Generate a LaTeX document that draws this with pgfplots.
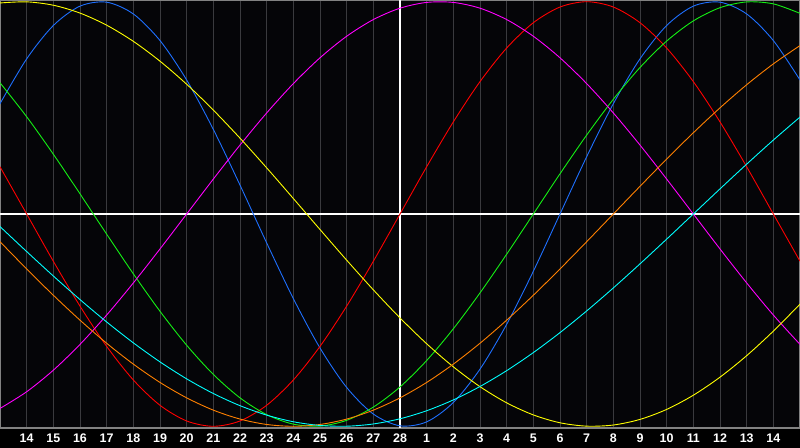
\documentclass[border=0pt]{standalone}
\usepackage{fontspec}
\setmainfont{Liberation Sans}
\usepackage{pgfplots}
\usepackage{pgfplotstable}
\pgfplotsset{compat=1.18}

\definecolor{bg}{RGB}{5,5,8}
\definecolor{gridc}{RGB}{58,58,62}
\definecolor{borderc}{RGB}{130,130,130}
\definecolor{cphys}{RGB}{30,112,255}
\definecolor{cemo}{RGB}{255,0,0}
\definecolor{cint}{RGB}{20,240,20}
\definecolor{cintu}{RGB}{255,0,255}
\definecolor{caest}{RGB}{255,255,0}
\definecolor{caware}{RGB}{255,128,0}
\definecolor{cspir}{RGB}{0,255,255}

% day offset from today, then the seven cycles (23, 28, 33, 38, 43, 48, 53 days)
\pgfplotstableread{
u    phys    emo     intel   intu    aest    aware   spir
-15  0.5196  0.2225  0.6182 -0.9158  0.9940 -0.1305 -0.0592
-14  0.7308  0.0000  0.4582 -0.8372  0.9993 -0.2588 -0.1769
-13  0.8879 -0.2225  0.2817 -0.7357  0.9834 -0.3827 -0.2920
-12  0.9791 -0.4339  0.0951 -0.6142  0.9464 -0.5000 -0.4031
-11  0.9977 -0.6235 -0.0951 -0.4759  0.8894 -0.6088 -0.5085
-10  0.9423 -0.7818 -0.2817 -0.3247  0.8133 -0.7071 -0.6068
-9   0.8170 -0.9010 -0.4582 -0.1646  0.7198 -0.7934 -0.6966
-8   0.6311 -0.9749 -0.6182  0.0000  0.6112 -0.8660 -0.7765
-7   0.3984 -1.0000 -0.7557  0.1646  0.4894 -0.9239 -0.8456
-6   0.1362 -0.9749 -0.8660  0.3247  0.3572 -0.9659 -0.9028
-5  -0.1362 -0.9010 -0.9450  0.4759  0.2174 -0.9914 -0.9473
-4  -0.3984 -0.7818 -0.9898  0.6142  0.0730 -1.0000 -0.9786
-3  -0.6311 -0.6235 -0.9989  0.7357 -0.0730 -0.9914 -0.9961
-2  -0.8170 -0.4339 -0.9718  0.8372 -0.2174 -0.9659 -0.9996
-1  -0.9423 -0.2225 -0.9096  0.9158 -0.3572 -0.9239 -0.9890
0   -0.9977  0.0000 -0.8146  0.9694 -0.4894 -0.8660 -0.9646
1   -0.9791  0.2225 -0.6901  0.9966 -0.6112 -0.7934 -0.9267
2   -0.8879  0.4339 -0.5406  0.9966 -0.7198 -0.7071 -0.8757
3   -0.7308  0.6235 -0.3717  0.9694 -0.8133 -0.6088 -0.8125
4   -0.5196  0.7818 -0.1893  0.9158 -0.8894 -0.5000 -0.7379
5   -0.2698  0.9010  0.0000  0.8372 -0.9464 -0.3827 -0.6528
6    0.0000  0.9749  0.1893  0.7357 -0.9834 -0.2588 -0.5587
7    0.2698  1.0000  0.3717  0.6142 -0.9993 -0.1305 -0.4566
8    0.5196  0.9749  0.5406  0.4759 -0.9940  0.0000 -0.3482
9    0.7308  0.9010  0.6901  0.3247 -0.9675  0.1305 -0.2348
10   0.8879  0.7818  0.8146  0.1646 -0.9204  0.2588 -0.1183
11   0.9791  0.6235  0.9096  0.0000 -0.8536  0.3827  0.0000
12   0.9977  0.4339  0.9718 -0.1646 -0.7686  0.5000  0.1183
13   0.9423  0.2225  0.9989 -0.3247 -0.6673  0.6088  0.2348
14   0.8170  0.0000  0.9898 -0.4759 -0.5517  0.7071  0.3482
15   0.6311 -0.2225  0.9450 -0.6142 -0.4244  0.7934  0.4566
}\cycles

\begin{document}
\begin{tikzpicture}
\path[use as bounding box] (0,-20bp) rectangle (800bp,428bp);
\fill[black] (0,-20bp) rectangle (800bp,428bp);
\fill[bg] (0,0) rectangle (800bp,428bp);
\begin{axis}[
    at={(0,0)}, anchor=south west,
    width=800bp, height=428bp, scale only axis,
    xmin=-15, xmax=15, ymin=-1.008, ymax=1.008,
    xtick={-14,...,14},
    xticklabels={14,15,16,17,18,19,20,21,22,23,24,25,26,27,28,1,2,3,4,5,6,7,8,9,10,11,12,13,14},
    ytick=\empty,
    major tick length=0pt,
    xmajorgrids,
    grid style={draw=gridc, line width=1bp},
    axis line style={draw=borderc, line width=1.5bp},
    ticklabel style={text=white, font=\bfseries\fontsize{12.5}{14}\selectfont},
    xticklabel style={yshift=-2.5bp},
    every axis plot/.append style={line width=0.9bp, smooth},
]
\draw[white, line width=1.1bp] (axis cs:0,-1.008) -- (axis cs:0,1.008);
\draw[white, line width=1.1bp] (axis cs:-15,0) -- (axis cs:15,0);
\addplot[cphys] table[x=u, y=phys] {\cycles};
\addplot[cemo] table[x=u, y=emo] {\cycles};
\addplot[cint] table[x=u, y=intel] {\cycles};
\addplot[cintu] table[x=u, y=intu] {\cycles};
\addplot[caest] table[x=u, y=aest] {\cycles};
\addplot[caware] table[x=u, y=aware] {\cycles};
\addplot[cspir] table[x=u, y=spir] {\cycles};
\end{axis}
\end{tikzpicture}
\end{document}
